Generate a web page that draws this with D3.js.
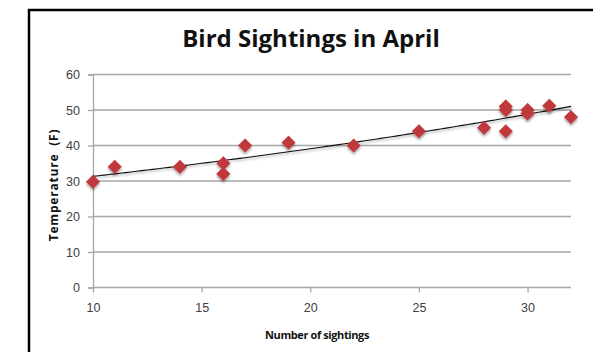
<!DOCTYPE html>
<html><head><meta charset="utf-8">
<script src="https://cdn.jsdelivr.net/npm/d3@7"></script>
<style>body{margin:0;background:#fff}svg{display:block}</style>
</head><body>
<svg id="c" width="593" height="352"></svg>
<script>
const sightings = [10, 11, 14, 16, 16, 17, 19, 22, 25, 28, 29, 29, 29, 30, 30, 31, 32];
const temperatures = [29.8, 34, 34, 35, 32, 40, 40.8, 40, 44, 45, 51, 50, 44, 50, 49, 51.2, 48];
const xTicks = [10, 15, 20, 25, 30];
const yTicks = [0, 10, 20, 30, 40, 50, 60];
const title = "Bird Sightings in April";
const xTitle = "Number of sightings";
const yTitle = "Temperature  (F)";

const svg = d3.select("#c");
const x = d3.scaleLinear().domain([10, 32]).range([93, 571]);
const y = d3.scaleLinear().domain([0, 60]).range([287.5, 74.5]);

// frame
svg.append("path").attr("d", "M29,360 V10 H600").attr("fill", "none")
  .attr("stroke", "#000").attr("stroke-width", 2.5);

const defs = svg.append("defs");
const f = defs.append("filter").attr("id", "sh").attr("x", "-50%").attr("y", "-50%").attr("width", "200%").attr("height", "200%");
f.append("feDropShadow").attr("dx", 1.5).attr("dy", 1.5).attr("stdDeviation", 1.2).attr("flood-color", "#000").attr("flood-opacity", 0.35);

// gridlines
svg.append("g").selectAll("line").data(yTicks.filter(d => d > 0)).join("line")
  .attr("x1", x(10)).attr("x2", x(32)).attr("y1", d => y(d)).attr("y2", d => y(d))
  .attr("stroke", "#a6a6a6").attr("stroke-width", 1.3);

// y axis
const yAxis = svg.append("g").attr("transform", `translate(${x(10)},0)`)
  .call(d3.axisLeft(y).tickValues(yTicks).tickSize(5).tickPadding(8).tickFormat(d3.format("d")));
// x axis
const xAxis = svg.append("g").attr("transform", `translate(0,${y(0)})`)
  .call(d3.axisBottom(x).tickValues(xTicks).tickSize(5).tickPadding(11).tickFormat(d3.format("d")));
[yAxis, xAxis].forEach(a => {
  a.select(".domain").attr("stroke", "#a6a6a6").attr("stroke-width", 1.3);
  a.selectAll(".tick line").attr("stroke", "#a6a6a6").attr("stroke-width", 1.3);
  a.selectAll("text").attr("fill", "#404040").style("font-family", "'Liberation Sans', Arial, sans-serif").style("font-size", "12.5px");
});
xAxis.select(".domain").attr("d", `M${x(10)},0H${x(32)}`);

// exponential trendline (least squares on ln y)
const lx = sightings, ly = temperatures.map(Math.log);
const mx = d3.mean(lx), my = d3.mean(ly);
const b = d3.sum(lx.map((v, i) => (v - mx) * (ly[i] - my))) / d3.sum(lx.map(v => (v - mx) ** 2));
const a = Math.exp(my - b * mx);
const trend = d3.range(10, 32.01, 0.25).map(v => [v, a * Math.exp(b * v)]);
svg.append("path").datum(trend)
  .attr("d", d3.line().x(d => x(d[0])).y(d => y(d[1])))
  .attr("fill", "none").attr("stroke", "#111").attr("stroke-width", 1.1).attr("filter", "url(#sh)");

// points
const sym = d3.symbol().type(d3.symbolSquare).size(100);
svg.append("g").selectAll("path").data(sightings.map((s, i) => [s, temperatures[i]])).join("path")
  .attr("d", sym)
  .attr("transform", d => `translate(${x(d[0])},${y(d[1])}) rotate(45)`)
  .attr("fill", "#c0393b").attr("filter", "url(#sh)");

// titles
svg.append("text").attr("x", 311).attr("y", 47).attr("text-anchor", "middle")
  .style("font-family", "'Open Sans', sans-serif").style("font-weight", "bold").style("font-size", "24px")
  .attr("fill", "#111").text(title);
svg.append("text").attr("x", 317).attr("y", 339).attr("text-anchor", "middle")
  .style("font-family", "'Open Sans', sans-serif").style("font-weight", "bold").style("font-size", "11px")
  .style("letter-spacing", "-0.4px")
  .attr("fill", "#111").text(xTitle);
svg.append("text").attr("transform", "translate(58,185) rotate(-90)").attr("text-anchor", "middle")
  .style("font-family", "'Open Sans', sans-serif").style("font-weight", "bold").style("font-size", "12px")
  .style("letter-spacing", "0.8px").style("white-space", "pre")
  .attr("fill", "#111").text(yTitle);
</script>
</body></html>
